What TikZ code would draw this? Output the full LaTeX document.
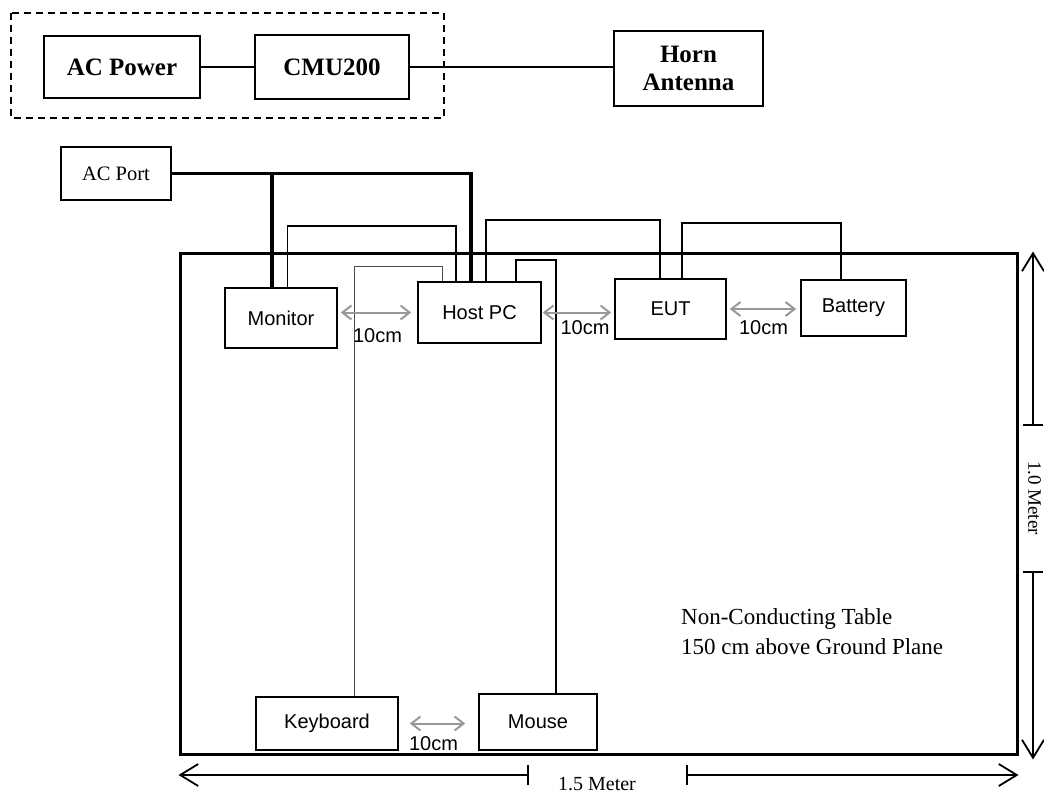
\documentclass[tikz,border=0pt]{standalone}
\usepackage{fontspec}
\setmainfont{Liberation Serif}
\setsansfont{Liberation Sans}
\usetikzlibrary{arrows.meta, positioning}

\begin{document}
\begin{tikzpicture}[
  x=1pt, y=-1pt,
  labbox/.style={draw, line width=1.8pt, inner sep=0pt, align=center, font=\fontsize{25}{28}\selectfont\bfseries},
  portbox/.style={draw, line width=1.6pt, inner sep=0pt, font=\fontsize{20.5}{23}\selectfont},
  devbox/.style={draw, line width=1.6pt, inner sep=0pt, font=\sffamily\fontsize{20}{22}\selectfont},
  cable/.style={line width=1.8pt},
  powercable/.style={line width=3.6pt},
  kbcable/.style={line width=1pt, black!70},
  gaparrow/.style={{Straight Barb[length=9pt,width=14pt]}-{Straight Barb[length=9pt,width=14pt]}, black!40, line width=2pt},
  gaplabel/.style={font=\sffamily\fontsize{20}{22}\selectfont, inner sep=1pt, text=black},
  dimline/.style={{Bar[width=20pt]}-{Straight Barb[length=18pt,width=22pt]}, line width=1.8pt},
  dimlabel/.style={font=\fontsize{20}{22}\selectfont, inner sep=0pt},
]
  \useasboundingbox (0,0) rectangle (1044,796);

  % Test equipment (dashed group) and antenna
  \draw[line width=1.6pt, dash pattern=on 7pt off 5pt] (11,13) rectangle (444,118);
  \node[labbox, minimum width=156pt, minimum height=62pt] (acpower) at (122,67) {AC Power};
  \node[labbox, minimum width=154pt, minimum height=64pt] (cmu) at (332,67) {CMU200};
  \node[labbox, minimum width=149pt, minimum height=75pt] (horn) at (688.5,68.5) {Horn\\Antenna};
  \draw[cable] (acpower) -- (cmu);
  \draw[cable] (cmu.east) -- (horn.west |- cmu.east);

  % Mains outlet
  \node[portbox, minimum width=110pt, minimum height=53pt] (acport) at (116,173.5) {AC Port};

  % Table and the devices on it
  \node[draw, line width=3pt, minimum width=837pt, minimum height=501pt, inner sep=0pt] (table) at (598.5,503.5) {};
  \node[devbox, minimum width=112pt, minimum height=60pt] (monitor) at (281,318) {Monitor};
  \node[devbox, minimum width=123pt, minimum height=61pt] (hostpc) at (479.5,312.5) {Host PC};
  \node[devbox, minimum width=111pt, minimum height=60pt] (eut) at (670.5,309) {EUT};
  \node[devbox, minimum width=105pt, minimum height=56pt] (battery) at (853.5,308) {Battery};
  \node[devbox, minimum width=142pt, minimum height=53pt] (keyboard) at (327,723.5) {Keyboard};
  \node[devbox, minimum width=118pt, minimum height=56pt] (mouse) at (538,722) {Mouse};

  % Power cables
  \draw[powercable] (acport.east) -| ([xshift=-8.5pt]hostpc.north);
  \draw[powercable] ([xshift=-9pt]monitor.north) -- ([xshift=-9pt]monitor.north |- acport.east);

  % Signal cables
  \draw[cable] ([xshift=6.5pt]monitor.north) -- ++(0,-61) -| ([xshift=-23.5pt]hostpc.north);
  \draw[cable] ([xshift=6.5pt]hostpc.north) -- ++(0,-61) -| ([xshift=-10.5pt]eut.north);
  \draw[cable] ([xshift=11.5pt]eut.north) -- ++(0,-55) -| ([xshift=-12.5pt]battery.north);
  \draw[kbcable] ([xshift=27pt]keyboard.north) -- ++(0,-430) -| ([xshift=-37.5pt]hostpc.north);
  \draw[cable] ([xshift=18pt]mouse.north) -- ++(0,-433) -| ([xshift=36.5pt]hostpc.north);

  % 10cm spacing
  \draw[gaparrow, shorten <=3pt, shorten >=6pt] (monitor.east |- hostpc.west) -- (hostpc.west)
    node[midway, below=14pt, gaplabel] {10cm};
  \draw[gaparrow, shorten <=1pt, shorten >=3pt] (hostpc.east) -- (eut.west |- hostpc.east)
    node[midway, below=6.5pt, xshift=7pt, gaplabel] {10cm};
  \draw[gaparrow, shorten <=3pt, shorten >=4pt] (eut.east) -- (battery.west |- eut.east)
    node[midway, below=10pt, gaplabel] {10cm};
  \draw[gaparrow, shorten <=11pt, shorten >=13pt] (keyboard.east) -- (mouse.west |- keyboard.east)
    node[midway, below=11.5pt, xshift=-5pt, gaplabel] {10cm};

  % Table note
  \node[anchor=west, align=left, inner sep=0pt, font=\fontsize{23}{30}\selectfont] (tablenote) at (681,632)
    {Non-Conducting Table\\150 cm above Ground Plane};

  % Table dimensions
  \coordinate (wtickl) at (529,775);
  \coordinate (wtickr) at (686,775);
  \draw[dimline] (wtickl) -- (table.south west |- wtickl);
  \draw[dimline] (wtickr) -- (table.south east |- wtickr);
  \node[dimlabel] (wlabel) at (597,784) {1.5 Meter};

  \coordinate (htickt) at (1033,426);
  \coordinate (htickb) at (1033,571);
  \draw[dimline] (htickt) -- (table.north east -| htickt);
  \draw[dimline] (htickb) -- ([yshift=-4pt]table.south east -| htickb);
  \node[dimlabel, rotate=-90, font=\fontsize{19}{21}\selectfont] (hlabel) at (1034.5,498) {1.0 Meter};
\end{tikzpicture}
\end{document}
